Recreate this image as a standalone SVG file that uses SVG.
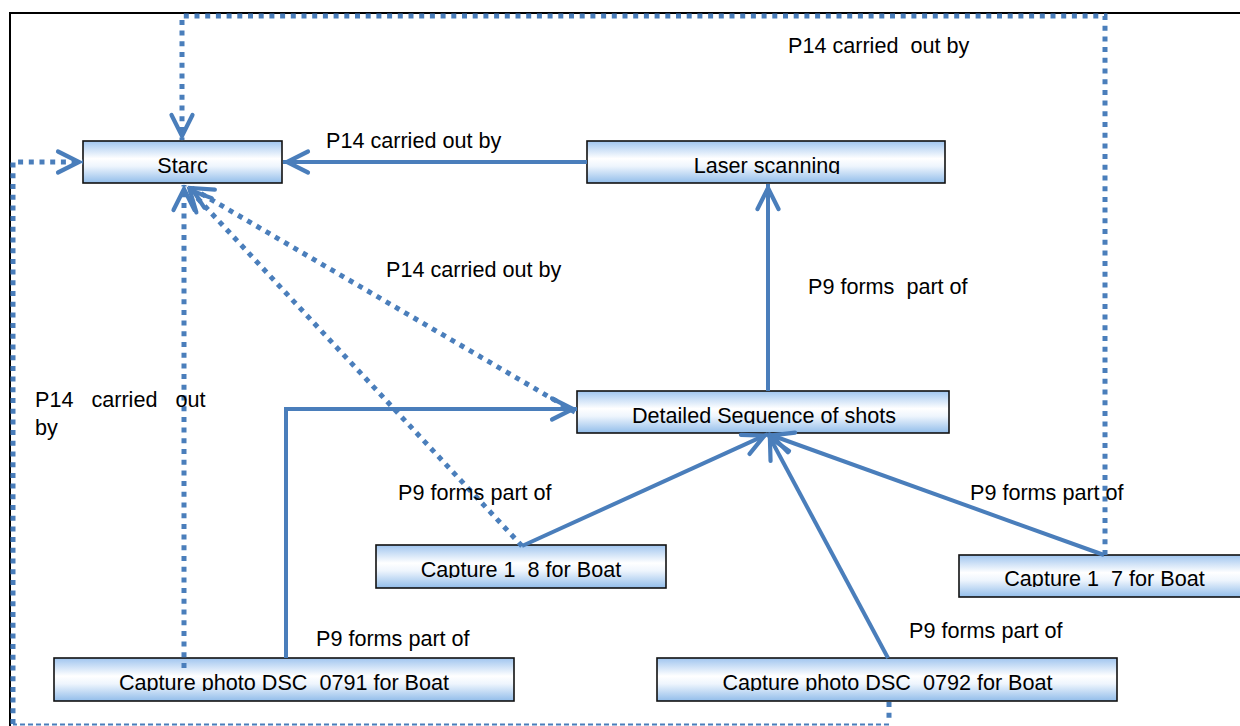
<svg xmlns="http://www.w3.org/2000/svg" width="1240" height="726" viewBox="0 0 1240 726">
  <style>
    .box { fill: url(#boxGrad); stroke: #111; stroke-width: 1.6; }
    .ntext { font-family: "Liberation Sans", Arial, sans-serif; font-size: 21.6px; fill: #000; text-anchor: middle; white-space: pre; }
    .label { font-family: "Liberation Sans", Arial, sans-serif; font-size: 21.6px; fill: #000; white-space: pre; }
    .solid { fill: none; stroke: #4a7ebb; stroke-width: 4; stroke-linejoin: miter; }
    .dotted { fill: none; stroke: #4a7ebb; stroke-width: 5; stroke-dasharray: 5 5.7; stroke-linejoin: miter; }
    .thin { fill: none; stroke: #4a7ebb; stroke-width: 2; stroke-dasharray: 5 3; }
    .frame { fill: none; stroke: #000; stroke-width: 2; }
  </style>
  <defs>
    <linearGradient id="boxGrad" x1="0" y1="0" x2="0" y2="1">
      <stop offset="0" stop-color="#a0c5ef"/>
      <stop offset="0.42" stop-color="#ffffff"/>
      <stop offset="0.6" stop-color="#eef5fd"/>
      <stop offset="1" stop-color="#92bdea"/>
    </linearGradient>
    <marker id="arr" markerUnits="userSpaceOnUse" viewBox="-30 -15 34 30" markerWidth="34" markerHeight="30" refX="0" refY="0" orient="auto">
      <path d="M-25,-10.5 L-4,0 L-25,10.5" fill="none" stroke="#4a7ebb" stroke-width="4.2" stroke-linecap="round" stroke-linejoin="miter" stroke-dasharray="none"/>
    </marker>
    <clipPath id="cStarc" clipPathUnits="userSpaceOnUse"><rect x="83" y="141" width="199" height="33"/></clipPath>
    <clipPath id="cLaser" clipPathUnits="userSpaceOnUse"><rect x="587" y="141" width="358" height="33"/></clipPath>
    <clipPath id="cDet" clipPathUnits="userSpaceOnUse"><rect x="577" y="391" width="372" height="33"/></clipPath>
    <clipPath id="cC18" clipPathUnits="userSpaceOnUse"><rect x="376" y="545" width="290" height="33"/></clipPath>
    <clipPath id="cC17" clipPathUnits="userSpaceOnUse"><rect x="959" y="555" width="300" height="32"/></clipPath>
    <clipPath id="cD91" clipPathUnits="userSpaceOnUse"><rect x="54" y="658" width="460" height="33"/></clipPath>
    <clipPath id="cD92" clipPathUnits="userSpaceOnUse"><rect x="657" y="658" width="460" height="33"/></clipPath>
  </defs>

  <rect width="1240" height="726" fill="#ffffff"/>
  <path class="frame" d="M10,726 L10,13 L1240,13"/>

  <g id="node-starc">
    <rect class="box" x="83" y="141" width="199" height="42"/>
    <text class="ntext" x="182.5" y="173" clip-path="url(#cStarc)">Starc</text>
  </g>
  <g id="node-laser">
    <rect class="box" x="587" y="141" width="358" height="42"/>
    <text class="ntext" x="767" y="173" clip-path="url(#cLaser)">Laser scanning</text>
  </g>
  <g id="node-detailed">
    <rect class="box" x="577" y="391" width="372" height="42"/>
    <text class="ntext" x="764" y="423" clip-path="url(#cDet)">Detailed Sequence of shots</text>
  </g>
  <g id="node-capture18">
    <rect class="box" x="376" y="545" width="290" height="43"/>
    <text class="ntext" x="521" y="577" xml:space="preserve" clip-path="url(#cC18)">Capture 1  8 for Boat</text>
  </g>
  <g id="node-capture17">
    <rect class="box" x="959" y="555" width="300" height="42"/>
    <text class="ntext" x="1104.5" y="586" xml:space="preserve" clip-path="url(#cC17)">Capture 1  7 for Boat</text>
  </g>
  <g id="node-dsc0791">
    <rect class="box" x="54" y="658" width="460" height="43"/>
    <text class="ntext" x="284" y="690" xml:space="preserve" clip-path="url(#cD91)">Capture photo DSC  0791 for Boat</text>
  </g>
  <g id="node-dsc0792">
    <rect class="box" x="657" y="658" width="460" height="43"/>
    <text class="ntext" x="887.5" y="690" xml:space="preserve" clip-path="url(#cD92)">Capture photo DSC  0792 for Boat</text>
  </g>

  <g id="connectors">
    <path class="solid" d="M587,162 L283,162" marker-end="url(#arr)"/>
    <path class="solid" d="M768,391 L768,184" marker-end="url(#arr)"/>
    <path class="solid" d="M522,546 L768,434" marker-end="url(#arr)"/>
    <path class="solid" d="M1104,555 L768,434" marker-end="url(#arr)"/>
    <path class="solid" d="M888,658 L768,434" marker-end="url(#arr)"/>
    <path class="solid" d="M286,658 L286,409 L577,409" marker-end="url(#arr)"/>
    <path class="dotted" d="M575,412 L188,186" marker-end="url(#arr)"/>
    <path class="dotted" d="M522,546 L187,187" marker-end="url(#arr)"/>
    <path class="dotted" d="M1105,555 L1105,16 L182,16 L182,140" marker-end="url(#arr)"/>
    <path class="dotted" d="M184,668 L184,185" marker-end="url(#arr)"/>
    <path class="dotted" d="M889,702 L889,723"/>
    <path class="thin" d="M889,724.5 L13,724.5"/>
    <path class="dotted" d="M13,724 L13,162 L83,162" marker-end="url(#arr)"/>
  </g>

  <g id="labels">
    <text class="label" x="326" y="148">P14 carried out by</text>
    <text class="label" x="788" y="53" xml:space="preserve">P14 carried  out by</text>
    <text class="label" x="386" y="277">P14 carried out by</text>
    <text class="label" x="808" y="294" xml:space="preserve">P9 forms  part of</text>
    <text class="label" x="35" y="407" xml:space="preserve">P14   carried   out</text>
    <text class="label" x="35" y="435">by</text>
    <text class="label" x="398" y="500">P9 forms part of</text>
    <text class="label" x="970" y="500">P9 forms part of</text>
    <text class="label" x="909" y="638">P9 forms part of</text>
    <text class="label" x="316" y="646">P9 forms part of</text>
  </g>
</svg>
